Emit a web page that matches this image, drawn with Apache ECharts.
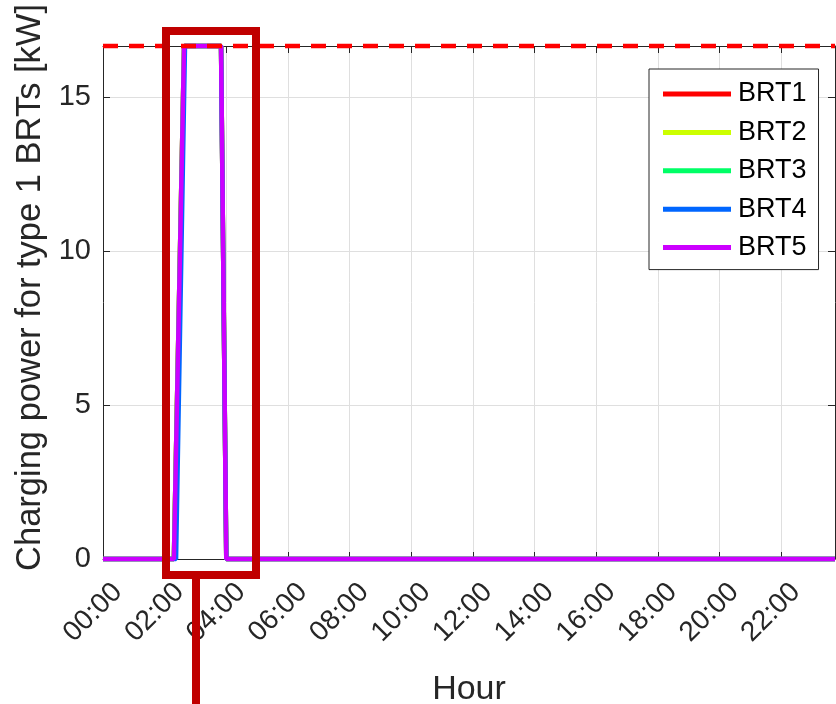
<!DOCTYPE html>
<html>
<head>
<meta charset="utf-8">
<script src="https://cdn.jsdelivr.net/npm/echarts@6/dist/echarts.min.js"></script>
<style>
html,body{margin:0;padding:0;background:#fff;}
#chart{width:836px;height:704px;}
</style>
</head>
<body>
<div id="chart"></div>
<script>
// ---- data (hour of day, kW) ----
const seriesNames = ['BRT1', 'BRT2', 'BRT3', 'BRT4', 'BRT5'];
const brt1 = [[0, 0], [2.3, 0], [2.63, 16.66], [3.83, 16.66], [4.0, 0], [23.75, 0]];
const brt2 = [[0, 0], [2.3, 0], [2.63, 16.66], [3.83, 16.66], [4.0, 0], [23.75, 0]];
const brt3 = [[0, 0], [2.3, 0], [2.63, 16.66], [3.83, 16.66], [4.0, 0], [23.75, 0]];
const brt4 = [[0, 0], [2.37, 0], [2.66, 16.66], [3.83, 16.66], [4.0, 0], [23.75, 0]];
const brt5 = [[0, 0], [2.3, 0], [2.63, 16.66], [3.83, 16.66], [4.0, 0], [23.75, 0]];
const maxPower = [[0, 16.66], [23.75, 16.66]];
const xTickLabels = ['00:00', '02:00', '04:00', '06:00', '08:00', '10:00', '12:00', '14:00', '16:00', '18:00', '20:00', '22:00'];
const yTickLabels = ['0', '5', '10', '15'];
const colors = ['#ff0000', '#ccff00', '#00ff66', '#0066ff', '#cc00ff'];
const seriesData = [brt1, brt2, brt3, brt4, brt5];

const FONT = '"Liberation Sans", Arial, sans-serif';
const AX = '#262626';

const chart = echarts.init(document.getElementById('chart'), null, {renderer: 'canvas'});

const xBase = {
  type: 'value', min: 0, max: 23.75, interval: 2,
  axisLine: {show: true, onZero: false, lineStyle: {color: AX, width: 1}},
  axisTick: {show: true, inside: true, length: 7, lineStyle: {color: AX}},
};
const yBase = {
  type: 'value', min: 0, max: 16.66, interval: 5,
  axisLine: {show: true, onZero: false, lineStyle: {color: AX, width: 1}},
  axisTick: {show: true, inside: true, length: 7, lineStyle: {color: AX}},
};

const series = seriesNames.map((n, i) => ({
  name: n, type: 'line', data: seriesData[i], showSymbol: false, symbol: 'none',
  clip: false, z: 3 + i,
  lineStyle: {color: colors[i], width: 4.5}, itemStyle: {color: colors[i]}
}));
series.push({
  name: 'max', type: 'line', data: maxPower, showSymbol: false, symbol: 'none',
  clip: false, z: 10,
  lineStyle: {color: '#ff0000', width: 4.5, type: [15, 11]}
});

chart.setOption({
  animation: false,
  backgroundColor: '#fff',
  grid: {left: 103, right: 1, top: 46, bottom: 145, containLabel: false, outerBoundsMode: 'none'},
  xAxis: [
    Object.assign({}, xBase, {
      position: 'bottom',
      name: 'Hour', nameLocation: 'middle', nameGap: 114,
      nameTextStyle: {fontFamily: FONT, fontSize: 34, color: AX},
      axisLabel: {
        show: true, rotate: 45, margin: 14, fontFamily: FONT, fontSize: 28, color: AX,
        lineHeight: 42, verticalAlign: 'top',
        showMinLabel: true, showMaxLabel: false, hideOverlap: false,
        formatter: v => (v % 2 === 0 ? xTickLabels[v / 2] : '')
      },
      splitLine: {show: true, lineStyle: {color: '#dfdfdf', width: 1}}
    }),
    Object.assign({}, xBase, {
      position: 'top', axisLabel: {show: false}, splitLine: {show: false}
    })
  ],
  yAxis: [
    Object.assign({}, yBase, {
      position: 'left',
      name: 'Charging power for type 1 BRTs [kW]', nameLocation: 'middle', nameGap: 55,
      nameTextStyle: {fontFamily: FONT, fontSize: 34.5, color: AX, padding: [0, 0, 0, 30]},
      axisLabel: {
        show: true, margin: 12, fontFamily: FONT, fontSize: 29, color: AX,
        showMinLabel: true, showMaxLabel: false,
        formatter: v => (v % 5 === 0 ? yTickLabels[v / 5] : '')
      },
      splitLine: {show: true, lineStyle: {color: '#dfdfdf', width: 1}}
    }),
    Object.assign({}, yBase, {
      position: 'right', axisLabel: {show: false}, splitLine: {show: false}
    })
  ],
  legend: {
    data: seriesNames,
    orient: 'vertical', left: 649, top: 69,
    icon: 'rect', itemWidth: 68, itemHeight: 5, itemGap: 8.4,
    padding: [10, 12, 7, 14],
    backgroundColor: '#fff', borderColor: AX, borderWidth: 1,
    textStyle: {fontFamily: FONT, fontSize: 27, color: '#000', lineHeight: 30, padding: [0, 0, 0, 2]}
  },
  series: series,
  graphic: [
    {type: 'rect', z: 200, shape: {x: 166, y: 31, width: 90, height: 544},
     style: {fill: 'none', stroke: '#c00000', lineWidth: 8}},
    {type: 'line', z: 200, shape: {x1: 196, y1: 579, x2: 196, y2: 704},
     style: {stroke: '#c00000', lineWidth: 8}}
  ]
});
</script>
</body>
</html>
